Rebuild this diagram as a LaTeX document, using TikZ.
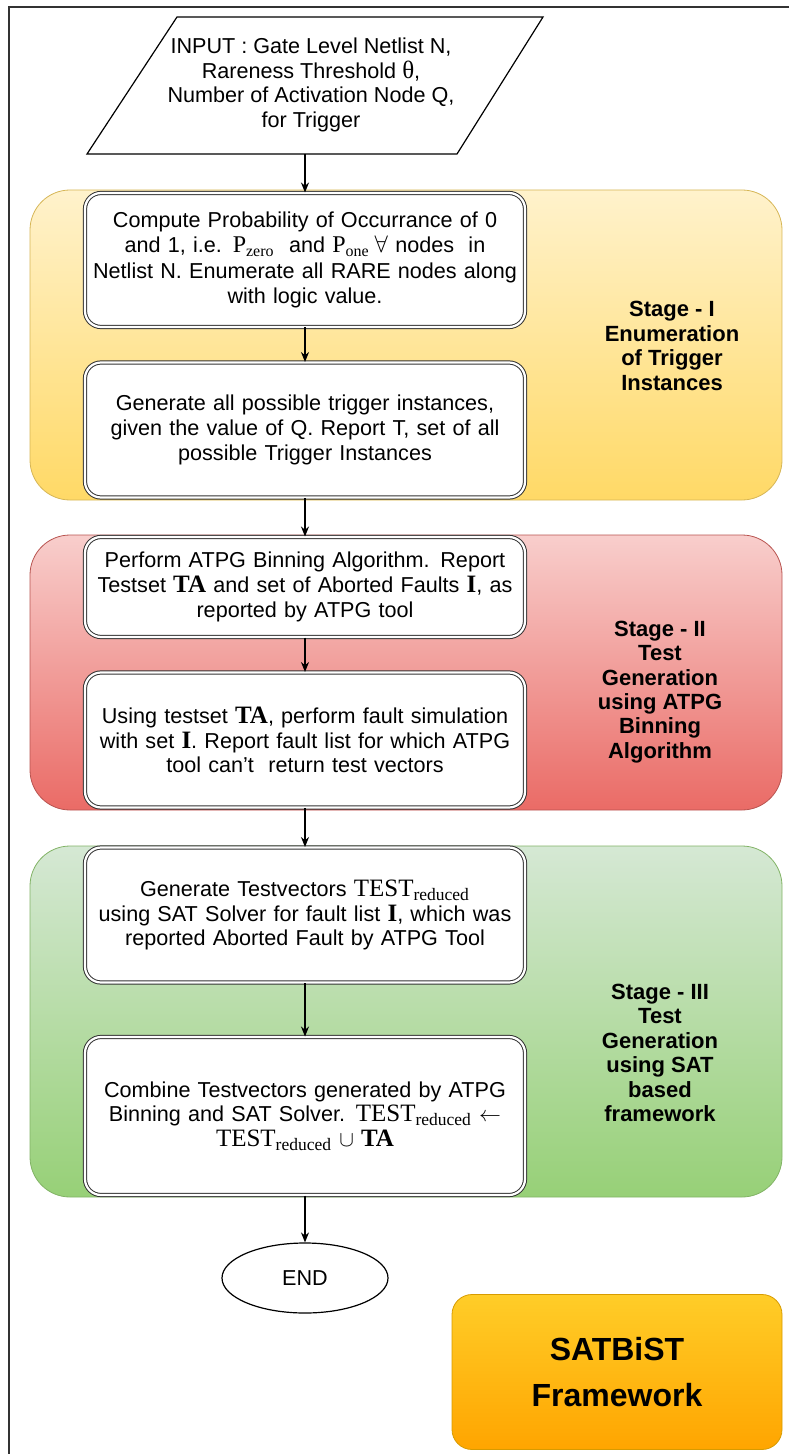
\documentclass[tikz,border=0pt]{standalone}
\usepackage{fontspec}
\setmainfont{Liberation Sans}
\newfontfamily\timesfont{Liberation Serif}
\usetikzlibrary{arrows.meta,shapes.geometric}

\definecolor{yelTop}{HTML}{FFF2CC}
\definecolor{yelBot}{HTML}{FFD966}
\definecolor{yelLine}{HTML}{D6B656}
\definecolor{redTop}{HTML}{F8CECC}
\definecolor{redBot}{HTML}{EA6B66}
\definecolor{redLine}{HTML}{B85450}
\definecolor{grnTop}{HTML}{D5E8D4}
\definecolor{grnBot}{HTML}{97D077}
\definecolor{grnLine}{HTML}{82B366}
\definecolor{orgTop}{HTML}{FFCD28}
\definecolor{orgBot}{HTML}{FFA500}
\definecolor{orgLine}{HTML}{D79B00}

\newcommand{\serifbig}{\timesfont\fontsize{12.5}{12}\selectfont}
\newcommand{\testred}{{\serifbig TEST\textsubscript{reduced}}}
\newcommand{\setTA}{{\serifbig\bfseries TA}}
\newcommand{\setI}{{\serifbig\bfseries I}}

\begin{document}
\begin{tikzpicture}[x=0.5pt,y=-0.5pt,
    font=\fontsize{10.8}{12.4}\selectfont,
    stepbox/.style={draw=black!80, double=white, double distance=1.1pt,
      line width=0.5pt, rounded corners=8pt, fill=white,
      minimum width=220pt, text width=220pt, align=center, inner sep=0pt},
    stagelbl/.style={font=\bfseries\fontsize{11}{12.2}\selectfont, align=center},
    band/.style={rounded corners=20pt, line width=0.4pt},
    flow/.style={-{Stealth[length=5pt,width=4pt]}, line width=0.6pt}]
  \useasboundingbox (0,0) rectangle (789,1454);

  % frame
  \draw[line width=1pt, black!80] (789,7) -- (9,7) -- (9,1454);

  % input
  \draw[line width=0.6pt] (177,17) -- (543,17) -- (457,154) -- (87,154) -- cycle;
  \node[align=center] (input) at (311,85) {INPUT : Gate Level Netlist N,\\
    Rareness Threshold {\serifbig θ},\\ Number of Activation Node Q,\\ for Trigger};
  \coordinate (inbot) at (305,154);

  % stage bands
  \shade[band, top color=yelTop, bottom color=yelBot] (30,190) rectangle (782,500);
  \draw[band, yelLine] (30,190) rectangle (782,500);
  \shade[band, top color=redTop, bottom color=redBot] (30,535) rectangle (782,810);
  \draw[band, redLine] (30,535) rectangle (782,810);
  \shade[band, top color=grnTop, bottom color=grnBot] (30,846) rectangle (782,1197);
  \draw[band, grnLine] (30,846) rectangle (782,1197);

  % steps
  \node[stepbox, minimum height=67pt, font=\fontsize{10.8}{12.8}\selectfont] (prob) at (305,260)
    {Compute Probability of Occurrance of 0\\ and 1, i.e. {\timesfont\fontsize{12}{12}\selectfont P\textsubscript{zero}}\ \ and
     {\timesfont\fontsize{12}{12}\selectfont P\textsubscript{one}}\hspace{2.5pt}{\fontsize{12.5}{12}\selectfont$\forall$} nodes\ \ in\\
     Netlist N. Enumerate all RARE nodes along\\ with logic value.};
  \node[stepbox, minimum height=67.5pt] (trig) at (305,430)
    {Generate all possible trigger instances,\\ given the value of Q. Report T, set of all\\
     possible Trigger Instances};
  \node[stepbox, minimum height=50pt] (atpg) at (305,587)
    {Perform ATPG Binning Algorithm. Report\\ Testset \setTA{} and set of Aborted Faults \setI, as\\
     reported by ATPG tool};
  \node[stepbox, minimum height=67.5pt] (fsim) at (305,740)
    {Using testset \setTA, perform fault simulation\\ with set \setI. Report fault list for which ATPG\\
     tool can't\ \ return test vectors};
  \node[stepbox, minimum height=67.5pt] (sat) at (305,915)
    {Generate Testvectors \testred\\ using SAT Solver for fault list \setI, which was\\
     reported Aborted Fault by ATPG Tool};
  \node[stepbox, minimum height=79pt] (comb) at (305,1116)
    {Combine Testvectors generated by ATPG\\ Binning and SAT Solver. \testred\ $\leftarrow$\\
     \testred\ $\cup$ \setTA};
  \node[draw, ellipse, line width=0.6pt, minimum width=83pt, minimum height=35pt] (end) at (305,1278) {END};

  % stage labels
  \node[stagelbl] (s1) at (672,346) {Stage - I\\ Enumeration\\ of Trigger\\ Instances};
  \node[stagelbl] (s2) at (660,692) {Stage - II\\ Test\\ Generation\\ using ATPG\\ Binning\\ Algorithm};
  \node[stagelbl] (s3) at (660,1053) {Stage - III\\ Test\\ Generation\\ using SAT\\ based\\ framework};

  % framework tag
  \node[rounded corners=10pt, draw=orgLine, top color=orgTop, bottom color=orgBot,
    minimum width=165pt, minimum height=77.5pt, align=center,
    font=\bfseries\fontsize{16}{23}\selectfont] (tag) at (617,1372) {SATBiST\\ Framework};

  % connectors
  \draw[flow] (inbot) -- (prob);
  \draw[flow] (prob) -- (trig);
  \draw[flow] (trig) -- (atpg);
  \draw[flow] (atpg) -- (fsim);
  \draw[flow] (fsim) -- (sat);
  \draw[flow] (sat) -- (comb);
  \draw[flow] (comb) -- (end);
\end{tikzpicture}
\end{document}
